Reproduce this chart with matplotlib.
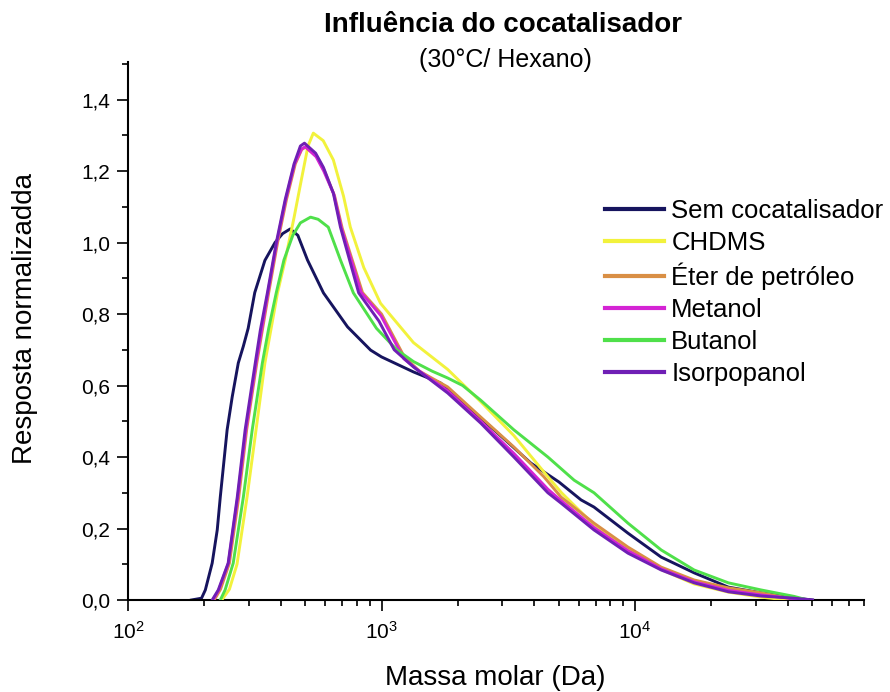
import numpy as np
import matplotlib
matplotlib.use("Agg")
import matplotlib.pyplot as plt
from matplotlib.ticker import MultipleLocator, FuncFormatter, LogLocator, NullFormatter

plt.rcParams['font.family'] = ['Liberation Sans', 'DejaVu Sans']
plt.rcParams['mathtext.fontset'] = 'custom'
plt.rcParams['mathtext.rm'] = 'Liberation Sans'
plt.rcParams['mathtext.it'] = 'Liberation Sans:italic'
plt.rcParams['mathtext.bf'] = 'Liberation Sans:bold'

# ---------------- data (log10 of molar mass in Da, normalized response) ----------------
series_labels = ["Sem cocatalisador", "CHDMS", "Éter de petróleo", "Metanol", "Butanol", "Isorpopanol"]
series_colors = ["#16145e", "#f2f23c", "#d98f45", "#d424d4", "#4fe04a", "#6f1fb5"]

logM_sem = [2.25, 2.29, 2.305, 2.332, 2.352, 2.364, 2.391, 2.411, 2.435, 2.455, 2.474, 2.50, 2.54, 2.58,
            2.61, 2.64, 2.67, 2.708, 2.771, 2.866, 2.957, 3.00, 3.126, 3.233, 3.324, 3.458, 3.589, 3.70,
            3.787, 3.838, 3.972, 4.103, 4.233, 4.368, 4.498, 4.628, 4.70]
y_sem = [0.0, 0.005, 0.028, 0.103, 0.196, 0.288, 0.476, 0.568, 0.663, 0.71, 0.76, 0.86, 0.95, 1.00,
         1.025, 1.038, 1.02, 0.951, 0.859, 0.764, 0.699, 0.68, 0.638, 0.607, 0.551, 0.467, 0.383, 0.33,
         0.28, 0.26, 0.187, 0.12, 0.076, 0.036, 0.02, 0.006, 0.0]

logM_chd = [2.37, 2.40, 2.43, 2.47, 2.505, 2.54, 2.59, 2.62, 2.655, 2.685, 2.71, 2.731, 2.77, 2.81, 2.85,
            2.877, 2.93, 2.996, 3.126, 3.261, 3.391, 3.522, 3.65, 3.71, 3.838, 3.972, 4.103, 4.233, 4.368,
            4.498, 4.60]
y_chd = [0.0, 0.03, 0.10, 0.29, 0.476, 0.663, 0.86, 0.951, 1.07, 1.18, 1.27, 1.306, 1.285, 1.231, 1.13,
         1.043, 0.93, 0.83, 0.72, 0.645, 0.555, 0.46, 0.35, 0.30, 0.21, 0.14, 0.085, 0.045, 0.022,
         0.008, 0.0]

logM_eter = [2.34, 2.365, 2.40, 2.437, 2.468, 2.508, 2.555, 2.59, 2.625, 2.66, 2.685, 2.70, 2.745, 2.775,
             2.815, 2.845, 2.925, 3.00, 3.09, 3.15, 3.261, 3.391, 3.522, 3.64, 3.708, 3.838, 3.972, 4.103,
             4.233, 4.368, 4.498, 4.60, 4.66]
y_eter = [0.0, 0.03, 0.103, 0.288, 0.476, 0.663, 0.86, 1.0, 1.12, 1.22, 1.26, 1.267, 1.24, 1.20,
          1.13, 1.04, 0.86, 0.80, 0.68, 0.64, 0.596, 0.512, 0.428, 0.345, 0.288, 0.215, 0.148, 0.092,
          0.056, 0.034, 0.02, 0.006, 0.0]

logM_met = [2.335, 2.358, 2.396, 2.433, 2.465, 2.505, 2.552, 2.587, 2.622, 2.657, 2.685, 2.70, 2.742, 2.772,
            2.812, 2.842, 2.92, 2.998, 3.088, 3.14, 3.261, 3.391, 3.522, 3.656, 3.708, 3.838, 3.972, 4.103,
            4.233, 4.368, 4.498, 4.62, 4.68]
y_met = [0.0, 0.028, 0.103, 0.288, 0.476, 0.663, 0.86, 1.0, 1.12, 1.22, 1.262, 1.268, 1.24, 1.20,
         1.135, 1.04, 0.86, 0.795, 0.675, 0.645, 0.585, 0.50, 0.41, 0.31, 0.278, 0.203, 0.138, 0.087,
         0.051, 0.027, 0.014, 0.004, 0.0]

logM_but = [2.364, 2.383, 2.415, 2.455, 2.490, 2.53, 2.555, 2.585, 2.615, 2.65, 2.68, 2.72, 2.75, 2.79,
            2.838, 2.889, 2.98, 3.06, 3.126, 3.20, 3.261, 3.32, 3.391, 3.522, 3.656, 3.76, 3.838, 3.972,
            4.103, 4.233, 4.368, 4.498, 4.628, 4.68]
y_but = [0.0, 0.028, 0.103, 0.288, 0.476, 0.663, 0.76, 0.86, 0.951, 1.02, 1.055, 1.071, 1.065, 1.043,
         0.951, 0.859, 0.76, 0.70, 0.667, 0.64, 0.621, 0.60, 0.559, 0.476, 0.40, 0.335, 0.30, 0.215,
         0.14, 0.084, 0.048, 0.028, 0.01, 0.0]

logM_iso = [2.332, 2.356, 2.395, 2.431, 2.462, 2.502, 2.522, 2.55, 2.585, 2.62, 2.655, 2.68, 2.696, 2.74,
            2.771, 2.81, 2.838, 2.91, 2.99, 3.05, 3.126, 3.261, 3.391, 3.522, 3.656, 3.708, 3.838, 3.972,
            4.103, 4.233, 4.368, 4.498, 4.628, 4.70]
y_iso = [0.0, 0.028, 0.103, 0.288, 0.476, 0.663, 0.755, 0.86, 1.0, 1.12, 1.22, 1.27, 1.278, 1.25,
         1.21, 1.138, 1.043, 0.859, 0.78, 0.70, 0.652, 0.579, 0.495, 0.40, 0.30, 0.271, 0.196, 0.131,
         0.084, 0.048, 0.023, 0.011, 0.005, 0.0]

y_ticks = [0.0, 0.2, 0.4, 0.6, 0.8, 1.0, 1.2, 1.4]

all_logM = [logM_sem, logM_chd, logM_eter, logM_met, logM_but, logM_iso]
all_y = [y_sem, y_chd, y_eter, y_met, y_but, y_iso]

# ---------------- figure ----------------
W, H = 890, 692
fig = plt.figure(figsize=(W / 100, H / 100), dpi=100)
ax = fig.add_axes([128 / W, 1 - 600 / H, (864 - 128) / W, (600 - 62) / H])

for i, (lm, yy) in enumerate(zip(all_logM, all_y)):
    ax.plot(10 ** np.asarray(lm), yy, color=series_colors[i], lw=2.1,
            label=series_labels[i], zorder=2 + i, solid_joinstyle='round')

ax.set_xscale('log')
ax.set_xlim(100, 8e4)
ax.set_ylim(0, 1.505)

for s in ['top', 'right']:
    ax.spines[s].set_visible(False)
for s in ['left', 'bottom']:
    ax.spines[s].set_linewidth(1.5)

ax.yaxis.set_major_locator(plt.FixedLocator(y_ticks))
ax.yaxis.set_minor_locator(MultipleLocator(0.1))
ax.yaxis.set_major_formatter(FuncFormatter(lambda v, p: f"{v:.1f}".replace('.', ',')))
ax.xaxis.set_major_locator(LogLocator(base=10, numticks=10))
ax.xaxis.set_minor_locator(LogLocator(base=10, subs=np.arange(2, 10), numticks=30))
ax.xaxis.set_minor_formatter(NullFormatter())

ax.tick_params(which='major', direction='out', length=8, width=1.3, labelsize=15, color='#111111')
ax.tick_params(which='minor', direction='out', length=4, width=1.3, color='#111111')
ax.tick_params(axis='y', which='major', pad=5)
ax.tick_params(axis='x', which='major', pad=7)

fig.text(495 / W, 1 - 678 / H, "Massa molar (Da)", ha='center', va='center', fontsize=20)
fig.text(25 / W, 1 - 319 / H, "Resposta normalizadda", ha='center', va='center', rotation=90, fontsize=20)
fig.text(503 / W, 1 - 25 / H, "Influência do cocatalisador", ha='center', va='center', fontsize=20,
         fontweight='bold')
fig.text(505 / W, 1 - 60 / H, "(30°C/ Hexano)", ha='center', va='center', fontsize=18)

leg = ax.legend(loc='upper left', bbox_to_anchor=(605 / W, 1 - 199 / H), bbox_transform=fig.transFigure,
                frameon=False, fontsize=18.5, handlelength=2.3, handletextpad=0.28, labelspacing=0.31,
                borderpad=0, borderaxespad=0)
for ln in leg.get_lines():
    ln.set_linewidth(3)

fig.savefig("out.png", dpi=100)
